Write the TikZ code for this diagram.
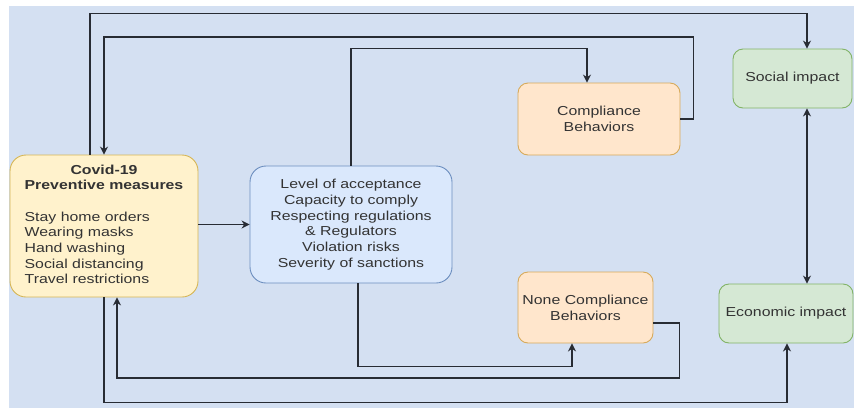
\documentclass[tikz,border=0pt]{standalone}
\usepackage{fontspec}
\setmainfont{Liberation Sans}[FakeStretch=1.22]
\usetikzlibrary{shapes,arrows.meta,calc}

\definecolor{bgblue}{RGB}{212,224,242}
\definecolor{linegray}{RGB}{40,44,52}
\definecolor{textgray}{RGB}{51,51,51}
\definecolor{yellowfill}{RGB}{255,242,204}
\definecolor{yellowline}{RGB}{214,182,86}
\definecolor{bluefill}{RGB}{218,232,252}
\definecolor{blueline}{RGB}{108,142,191}
\definecolor{orangefill}{RGB}{255,230,204}
\definecolor{orangeline}{RGB}{215,170,90}
\definecolor{greenfill}{RGB}{213,232,212}
\definecolor{greenline}{RGB}{130,179,102}

\begin{document}
\begin{tikzpicture} [x=1pt, y=-1pt,
				box/.style={
				% The shape:
				rectangle, rounded corners=10pt,
				% The border:
				line width=0.9pt,
				% Font
				font=\fontsize{13}{15.7}\selectfont, text=textgray,
				inner sep=2pt, align=center
    				},
				measure/.style={
				box, rounded corners=16pt,
				draw=yellowline, fill=yellowfill,
				minimum width=188pt, minimum height=142pt
    				},
				factor/.style={
				box, rounded corners=16pt,
				draw=blueline, fill=bluefill,
				minimum width=202pt, minimum height=117pt
    				},
				behav/.style={
				box,
				draw=orangeline, fill=orangefill,
				minimum height=72pt
    				},
				impact/.style={
				box,
				draw=greenline, fill=greenfill,
				minimum height=59pt
    				},
				flow/.style={
				draw=linegray, line width=1.1pt,
				-{Stealth[length=8pt,width=8pt]}
    				},
				]
    % background
    \fill[white] (0,0) rectangle (854,408);
    \fill[bgblue] (9,6) rectangle (854,408);
    \useasboundingbox (0,0) rectangle (854,408);

    \node [measure] (covid) at (104,226) {%
        \begin{tabular}{@{}l@{}}
        \multicolumn{1}{@{}c@{}}{\bfseries Covid-19}\\
        \bfseries Preventive measures\\[15.5pt]
        Stay home orders\\
        Wearing masks\\
        Hand washing\\
        Social distancing\\
        Travel restrictions
        \end{tabular}};
    \node [factor] (accept) at (351,224.5) {Level of acceptance\\ Capacity to comply\\ Respecting regulations\\ \& Regulators\\ Violation risks\\ Severity of sanctions};
    \node [behav, minimum width=162pt] (comply) at (599,119) {Compliance\\ Behaviors};
    \node [behav, minimum width=135pt, minimum height=71pt] (noncomply) at (585.5,307.5) {None Compliance\\ Behaviors};
    \node [impact, minimum width=119pt] (social) at (792.5,78.5) {Social impact};
    \node [impact, minimum width=134pt] (economic) at (786,313.5) {Economic impact};

    % connectors
    \draw [flow] (covid.east |- accept.west) -- (accept.west);
    \draw [flow] ([xshift=-14pt]covid.north) -- ++(0,-141) -| ([xshift=14.5pt]social.north);
    \draw [flow] (comply.east) -- ++(13,0) -- ++(0,-82) -| (covid.north);
    \draw [flow] (accept.north) -- ++(0,-117) -| ([xshift=-12pt]comply.north);
    \draw [flow] ([xshift=7pt]accept.south) -- ++(0,83) -| ([xshift=-13.5pt]noncomply.south);
    \draw [flow] ([yshift=-15.5pt]noncomply.east) -- ++(26,0) -- ++(0,55) -| ([xshift=13pt]covid.south);
    \draw [flow] (covid.south) -- ++(0,105) -| ([xshift=1pt]economic.south);
    \draw [flow, {Stealth[length=8pt,width=8pt]}-{Stealth[length=8pt,width=8pt]}] ([xshift=14.5pt]social.south) -- ([xshift=21pt]economic.north);
\end{tikzpicture}
\end{document}
